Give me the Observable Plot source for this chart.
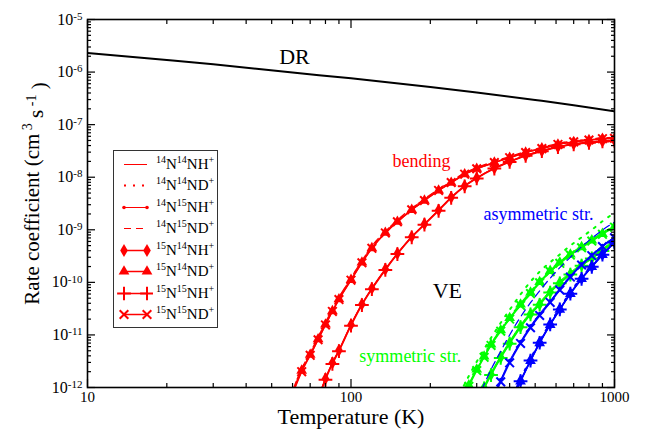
<!DOCTYPE html>
<html><head><meta charset="utf-8">
<script src="https://cdn.jsdelivr.net/npm/d3@7"></script>
<script src="https://cdn.jsdelivr.net/npm/@observablehq/plot@0.6"></script>
<style>
html,body{margin:0;padding:0;background:#fff;}
#wrap{position:relative;width:647px;height:430px;font-family:"Liberation Serif",serif;}
#legend{position:absolute;left:113px;top:150px;width:103px;height:176px;border:1.5px solid #333;background:#fff;}
.row{position:absolute;left:3px;height:21px;display:flex;align-items:center;}
.row svg{display:block;}
.row span{font-size:15px;color:#000;white-space:nowrap;margin-left:3px;line-height:15px;}
.row sup{font-size:10px;vertical-align:0;position:relative;top:-6px;line-height:0;}
</style></head><body><div id="wrap"></div>
<script>
// ---------- data ----------
const isoMassA = ["14","14","14","14","15","15","15","15"];
const isoMassB = ["14","14","15","15","14","14","15","15"];
const isoEnd   = ["NH","ND","NH","ND","NH","ND","NH","ND"];

const xMajor = [10, 100, 1000];
const xMinor = [20,30,40,50,60,70,80,90,200,300,400,500,600,700,800,900];
const yMajor = [1e-12,1e-11,1e-10,1e-9,1e-8,1e-7,1e-6,1e-5];

// dissociative recombination
const tDR = [10,20,30,60,100,200,300,500,700,1000];
const kDR = [2.3e-6,1.7e-6,1.41e-6,9.8e-7,7.6e-7,5.2e-7,4.1e-7,2.95e-7,2.35e-7,1.8e-7];

// bending mode
const tBend = [60,65,70,75,80,85,90,100,110,120,135,150,170,190,215,240,270,300,350,400,460,530,610,700,800,900,1000];
const bend14N14NH = [null,null,null,6.3e-13,1.5e-12,3.0e-12,5.2e-12,1.6e-11,3.9e-11,7.8e-11,1.8e-10,3.6e-10,7.5e-10,1.3e-9,2.4e-9,4.2e-9,6.9e-9,9.8e-9,1.5e-8,2.0e-8,2.6e-8,3.2e-8,3.8e-8,4.3e-8,4.6e-8,4.85e-8,5.0e-8];
const bend14N14ND = [8.3e-13,2.2e-12,4.4e-12,8.7e-12,1.66e-11,3.0e-11,5.0e-11,1.17e-10,2.5e-10,4.7e-10,9.1e-10,1.48e-9,2.5e-9,3.7e-9,5.8e-9,8.1e-9,1.17e-8,1.48e-8,1.95e-8,2.4e-8,3.0e-8,3.6e-8,4.3e-8,4.8e-8,5.2e-8,5.5e-8,5.6e-8];
const bend14N15NH = [null,null,null,6.0e-13,1.45e-12,2.9e-12,5.0e-12,1.55e-11,3.8e-11,7.6e-11,1.75e-10,3.5e-10,7.3e-10,1.27e-9,2.35e-9,4.1e-9,6.8e-9,9.6e-9,1.48e-8,1.97e-8,2.57e-8,3.15e-8,3.75e-8,4.25e-8,4.55e-8,4.8e-8,4.95e-8];
const bend14N15ND = [8.8e-13,2.3e-12,4.6e-12,9.1e-12,1.74e-11,3.1e-11,5.2e-11,1.22e-10,2.6e-10,4.9e-10,9.4e-10,1.53e-9,2.6e-9,3.85e-9,6.0e-9,8.4e-9,1.21e-8,1.53e-8,2.0e-8,2.47e-8,3.08e-8,3.7e-8,4.4e-8,4.9e-8,5.3e-8,5.6e-8,5.75e-8];
const bend15N14NH = [null,null,null,6.1e-13,1.47e-12,2.95e-12,5.1e-12,1.57e-11,3.85e-11,7.7e-11,1.78e-10,3.55e-10,7.4e-10,1.29e-9,2.38e-9,4.15e-9,6.85e-9,9.7e-9,1.49e-8,1.99e-8,2.58e-8,3.18e-8,3.78e-8,4.28e-8,4.58e-8,4.83e-8,4.98e-8];
const bend15N14ND = [7.8e-13,2.1e-12,4.2e-12,8.3e-12,1.58e-11,2.85e-11,4.8e-11,1.12e-10,2.4e-10,4.5e-10,8.8e-10,1.43e-9,2.4e-9,3.6e-9,5.6e-9,7.9e-9,1.14e-8,1.45e-8,1.91e-8,2.35e-8,2.95e-8,3.55e-8,4.2e-8,4.7e-8,5.1e-8,5.4e-8,5.5e-8];
const bend15N15NH = [null,null,null,5.8e-13,1.4e-12,2.8e-12,4.9e-12,1.5e-11,3.7e-11,7.4e-11,1.72e-10,3.45e-10,7.2e-10,1.25e-9,2.3e-9,4.05e-9,6.7e-9,9.5e-9,1.46e-8,1.95e-8,2.55e-8,3.12e-8,3.72e-8,4.22e-8,4.52e-8,4.78e-8,4.92e-8];
const bend15N15ND = [7.5e-13,2.0e-12,4.1e-12,8.1e-12,1.55e-11,2.8e-11,4.7e-11,1.1e-10,2.35e-10,4.45e-10,8.7e-10,1.42e-9,2.4e-9,3.6e-9,5.6e-9,7.9e-9,1.14e-8,1.45e-8,1.9e-8,2.35e-8,2.95e-8,3.5e-8,4.2e-8,4.7e-8,5.1e-8,5.4e-8,5.5e-8];

// symmetric stretch
const tSym = [250,260,280,300,320,340,370,400,440,480,520,570,620,680,750,820,900,1000];
const sym14N14NH = [null,null,null,5.4e-13,1.03e-12,1.84e-12,3.9e-12,7.3e-12,1.5e-11,2.6e-11,4.0e-11,6.8e-11,1.02e-10,1.49e-10,2.2e-10,3.0e-10,4.2e-10,6.3e-10];
const sym14N14ND = [5.3e-13,8e-13,1.65e-12,3.1e-12,5.4e-12,8.8e-12,1.7e-11,3.0e-11,5.9e-11,1.03e-10,1.6e-10,2.4e-10,3.4e-10,5.0e-10,7.2e-10,1.0e-9,1.45e-9,2.1e-9];
const sym14N15NH = [null,null,null,5.6e-13,1.07e-12,1.92e-12,4.05e-12,7.6e-12,1.56e-11,2.7e-11,4.15e-11,7.05e-11,1.06e-10,1.55e-10,2.28e-10,3.1e-10,4.35e-10,6.5e-10];
const sym14N15ND = [null,4.8e-13,1.15e-12,2.3e-12,4.1e-12,6.9e-12,1.28e-11,2.2e-11,4.0e-11,6.7e-11,1.07e-10,1.73e-10,2.5e-10,3.55e-10,4.9e-10,6.6e-10,8.8e-10,1.2e-9];
const sym15N14NH = [null,null,null,5.2e-13,9.9e-13,1.77e-12,3.75e-12,7.0e-12,1.44e-11,2.5e-11,3.85e-11,6.55e-11,9.8e-11,1.44e-10,2.12e-10,2.9e-10,4.05e-10,6.1e-10];
const sym15N14ND = [null,4.5e-13,1.1e-12,2.2e-12,3.9e-12,6.6e-12,1.23e-11,2.1e-11,3.8e-11,6.4e-11,1.02e-10,1.66e-10,2.4e-10,3.4e-10,4.7e-10,6.3e-10,8.4e-10,1.15e-9];
const sym15N15NH = [null,null,null,5.0e-13,9.6e-13,1.72e-12,3.65e-12,6.8e-12,1.4e-11,2.45e-11,3.75e-11,6.4e-11,9.6e-11,1.41e-10,2.08e-10,2.85e-10,3.95e-10,6.0e-10];
const sym15N15ND = [null,4.3e-13,1.05e-12,2.1e-12,3.75e-12,6.3e-12,1.18e-11,2.0e-11,3.65e-11,6.1e-11,9.8e-11,1.6e-10,2.3e-10,3.3e-10,4.55e-10,6.1e-10,8.2e-10,1.12e-9];

// asymmetric stretch
const tAsym = [300,320,340,370,400,440,480,520,570,620,680,750,820,900,1000];
const asym14N14NH = [null,null,5.2e-13,1.35e-12,3.1e-12,7.2e-12,1.43e-11,2.45e-11,4.3e-11,7.4e-11,1.3e-10,2.2e-10,3.3e-10,4.9e-10,7.2e-10];
const asym14N14ND = [null,null,null,null,5.0e-13,1.45e-12,3.5e-12,7.6e-12,1.68e-11,3.25e-11,6.5e-11,1.24e-10,2.08e-10,3.5e-10,6.0e-10];
const asym14N15NH = [null,null,5.5e-13,1.42e-12,3.25e-12,7.5e-12,1.49e-11,2.55e-11,4.45e-11,7.65e-11,1.34e-10,2.26e-10,3.38e-10,5.0e-10,7.35e-10];
const asym14N15ND = [5.6e-13,1.15e-12,2.2e-12,4.9e-12,1.0e-11,2.2e-11,4.1e-11,6.9e-11,1.2e-10,1.9e-10,3.0e-10,4.75e-10,6.9e-10,9.9e-10,1.4e-9];
const asym15N14NH = [null,null,null,null,4.6e-13,1.35e-12,3.3e-12,7.2e-12,1.6e-11,3.1e-11,6.2e-11,1.19e-10,2.0e-10,3.4e-10,5.8e-10];
const asym15N14ND = [null,null,null,null,4.4e-13,1.3e-12,3.2e-12,7.0e-12,1.56e-11,3.02e-11,6.05e-11,1.16e-10,1.96e-10,3.33e-10,5.7e-10];
const asym15N15NH = [null,null,null,null,4.5e-13,1.32e-12,3.25e-12,7.1e-12,1.58e-11,3.06e-11,6.1e-11,1.17e-10,1.98e-10,3.36e-10,5.75e-10];
const asym15N15ND = [null,null,4.9e-13,1.28e-12,2.95e-12,6.9e-12,1.37e-11,2.35e-11,4.15e-11,7.15e-11,1.26e-10,2.14e-10,3.22e-10,4.8e-10,7.05e-10];

// annotations
const annText = ["DR","bending","asymmetric str.","VE","symmetric str."];
const annT    = [61, 185, 515, 232, 168];
const annK    = [1.9e-6, 2.0e-8, 2.0e-9, 7e-11, 3.9e-12];

// ---------- styles ----------
const RED = "#ff0000", GREEN = "#00ff00", BLUE = "#0000ff";
const annColor = ["#000", RED, BLUE, "#000", GREEN];
const annSize  = [22, 18, 18, 22, 18];
const STY = [
  {w:1},
  {w:2, dash:"2,7"},
  {w:1, sym:"circle", r:1.8, fill:true},
  {w:1.2, dash:"7,5"},
  {w:1.5, sym:"diamond", r:4, fill:true},
  {w:1.5, sym:"triangle", r:4, fill:true},
  {w:1.5, sym:"plus", r:4.5, fill:false},
  {w:1.5, sym:"times", r:4, fill:false}
];

const modes = [
  {color: RED,   T: tBend, vals: [bend14N14NH,bend14N14ND,bend14N15NH,bend14N15ND,bend15N14NH,bend15N14ND,bend15N15NH,bend15N15ND]},
  {color: GREEN, T: tSym,  vals: [sym14N14NH,sym14N14ND,sym14N15NH,sym14N15ND,sym15N14NH,sym15N14ND,sym15N15NH,sym15N15ND]},
  {color: BLUE,  T: tAsym, vals: [asym14N14NH,asym14N14ND,asym14N15NH,asym14N15ND,asym15N14NH,asym15N14ND,asym15N15NH,asym15N15ND]}
];

// ---------- marks ----------
const marks = [];
const drRows = tDR.map((T,i)=>({T, k:kDR[i]}));
marks.push(Plot.line(drRows, {x:"T", y:"k", stroke:"#000", strokeWidth:2, curve:"monotone-x", clip:true}));

modes.forEach(m => {
  m.vals.forEach((arr, i) => {
    const s = STY[i];
    const rows = m.T.map((T,j)=>({T, k:arr[j]})).filter(d => d.k != null);
    marks.push(Plot.line(rows, {x:"T", y:"k", stroke:m.color, strokeWidth:s.w, strokeDasharray:s.dash, curve:"monotone-x", clip:true}));
    if (s.sym) {
      marks.push(Plot.dot(rows, {x:"T", y:"k", symbol:s.sym, r:s.r,
        fill: s.fill ? m.color : "none", stroke: s.fill ? "none" : m.color, strokeWidth: 2, clip:true}));
    }
  });
});

const annRows = annText.map((t,i)=>({text:t, T:annT[i], k:annK[i], c:annColor[i], fs:annSize[i]}));
annRows.forEach(d => marks.push(Plot.text([d], {x:"T", y:"k", text:"text", fill:d.c, fontSize:d.fs})));

const yMinor = [];
for (let e = -12; e < -5; e++) for (let m = 2; m <= 9; m++) yMinor.push(m * Math.pow(10, e));

const powFmt = d => "10^" + Math.round(Math.log10(d));
const blank = () => "";
const TK = {label:null, tickFormat:blank, strokeWidth:1.2};

marks.push(
  // inward ticks (shifted into the frame)
  Plot.axisX(xMajor, {...TK, anchor:"bottom", tickSize:8, dy:-8}),
  Plot.axisX(xMinor, {...TK, anchor:"bottom", tickSize:4, dy:-4}),
  Plot.axisX(xMajor, {...TK, anchor:"top", tickSize:8, dy:8}),
  Plot.axisX(xMinor, {...TK, anchor:"top", tickSize:4, dy:4}),
  Plot.axisY(yMajor, {...TK, anchor:"left", tickSize:8, dx:8}),
  Plot.axisY(yMinor, {...TK, anchor:"left", tickSize:4, dx:4}),
  Plot.axisY(yMajor, {...TK, anchor:"right", tickSize:8, dx:-8}),
  Plot.axisY(yMinor, {...TK, anchor:"right", tickSize:4, dx:-4}),
  // tick labels
  Plot.axisX(xMajor, {anchor:"bottom", tickSize:0, tickPadding:4, tickFormat:d=>String(d), fontSize:15, label:null}),
  Plot.axisY(yMajor, {anchor:"left", tickSize:0, tickPadding:5, tickFormat:powFmt, fontSize:16, label:null}),
  Plot.frame({stroke:"#000", strokeWidth:1.6}),
  Plot.text(["Temperature (K)"], {frameAnchor:"bottom", dy:36, fontSize:22}),
  Plot.text(["@@YTITLE@@"], {frameAnchor:"left", textAnchor:"middle", lineAnchor:"middle", dx:-55, dy:-10, rotate:-90, fontSize:21})
);

const chart = Plot.plot({
  width: 647, height: 430,
  marginLeft: 87, marginRight: 33, marginTop: 19, marginBottom: 43,
  x: {type:"log", domain:[10,1000], label:null},
  y: {type:"log", domain:[1e-12,1e-5], label:null},
  color: {type:"identity"},
  style: {fontFamily:"Liberation Serif", fontSize:"16px", background:"#fff", color:"#000"},
  marks
});
document.getElementById("wrap").appendChild(chart);

// superscripts in y tick labels and y title
d3.select(chart).selectAll("text").each(function() {
  const s = this.textContent;
  const t = d3.select(this);
  if (s.startsWith("10^")) {
    const e = s.slice(3);
    t.text(null);
    t.append("tspan").text("10");
    t.append("tspan").attr("dy", "-0.45em").attr("font-size", "11px").text(e);
  } else if (s === "@@YTITLE@@") {
    t.text(null);
    t.append("tspan").text("Rate coefficient (cm");
    t.append("tspan").attr("dy", "-0.5em").attr("font-size", "14px").text(" 3");
    t.append("tspan").attr("dy", "0.5em").text(" s");
    t.append("tspan").attr("dy", "-0.5em").attr("font-size", "14px").text(" -1");
    t.append("tspan").attr("dy", "0.5em").text(" )");
  }
});

// ---------- legend ----------
const legend = d3.select("#wrap").append("div").attr("id", "legend");
const symMap = {circle:d3.symbolCircle, diamond:d3.symbolDiamond, triangle:d3.symbolTriangle, plus:d3.symbolPlus, times:d3.symbolTimes};
STY.forEach((s, i) => {
  const row = legend.append("div").attr("class", "row").style("top", (2.5 + i * 21.5) + "px");
  const svg = row.append("svg").attr("width", 36).attr("height", 21);
  svg.append("line").attr("x1", 7).attr("x2", 30).attr("y1", 10.5).attr("y2", 10.5)
    .attr("stroke", RED).attr("stroke-width", s.w).attr("stroke-dasharray", s.dash || null);
  if (s.sym) {
    const p = d3.symbol(symMap[s.sym], s.r * s.r * Math.PI)();
    [7, 30].forEach(x => svg.append("path").attr("d", p).attr("transform", `translate(${x},10.5)`)
      .attr("fill", s.fill ? RED : "none").attr("stroke", s.fill ? "none" : RED).attr("stroke-width", 2));
  }
  row.append("span").html(`<sup>${isoMassA[i]}</sup>N<sup>${isoMassB[i]}</sup>${isoEnd[i]}<sup>+</sup>`);
});
</script></body></html>
